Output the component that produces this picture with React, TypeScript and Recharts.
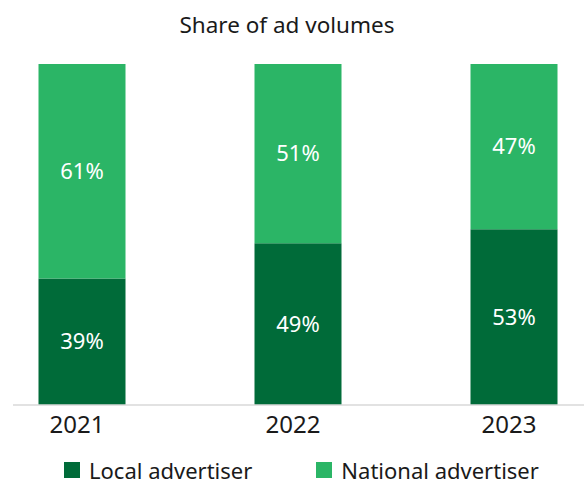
import React from 'react';
import { BarChart, Bar, XAxis, YAxis, LabelList } from 'recharts';

const years = ['2021', '2022', '2023'];
const localShare = [39, 49, 53];
const nationalShare = [61, 51, 47];
const seriesNames = ['Local advertiser', 'National advertiser'];

const DARK = '#006b39';
const LIGHT = '#2bb566';
const FONT = '"Noto Sans", sans-serif';

// chart geometry
const CHART_W = 648;
const CHART_H = 486;
const PLOT_TOP = 64;
const PLOT_BOTTOM = 405;

const data = years.map((y, i) => ({ year: y, local: localShare[i], national: nationalShare[i] }));

// centre the label in the visible (clipped) part of the bar
const CenterLabel = (props: any) => {
  const { x, y, width, height, value } = props;
  const top = Math.max(y, PLOT_TOP);
  const bottom = Math.min(y + height, PLOT_BOTTOM);
  return (
    <text
      x={x + width / 2}
      y={(top + bottom) / 2 - 1.5}
      textAnchor="middle"
      dominantBaseline="central"
      fill="#ffffff"
      fontSize={22}
      fontFamily={FONT}
    >
      {value}%
    </text>
  );
};

export default function App() {
  return (
    <div style={{ position: 'absolute', left: 0, top: 0, width: 584, height: 486, background: '#fff', overflow: 'hidden' }}>
      <div
        style={{
          position: 'absolute', left: 0, width: 574, top: 9, textAlign: 'center',
          fontFamily: FONT, fontSize: 22.5, color: '#1a1a1a', lineHeight: '32px',
        }}
      >
        Share of ad volumes
      </div>
      <div style={{ position: 'absolute', left: 13, top: 0, width: 571, height: CHART_H, overflow: 'hidden' }}>
        <div style={{ position: 'absolute', left: -39.5, top: 0 }}>
          <BarChart
            width={CHART_W}
            height={CHART_H}
            data={data}
            margin={{ top: PLOT_TOP, right: 0, bottom: 0, left: 0 }}
            barCategoryGap={64.5}
          >
            <XAxis
              dataKey="year"
              height={CHART_H - PLOT_BOTTOM}
              tickLine={false}
              axisLine={{ stroke: '#d9d9d9', strokeWidth: 1.5 }}
              tick={{ fill: '#1a1a1a', fontSize: 24, fontFamily: FONT, dx: -5 }}
              tickMargin={5}
            />
            <YAxis hide domain={[3, 100]} allowDataOverflow />
            <Bar dataKey="local" stackId="a" fill={DARK} isAnimationActive={false}>
              <LabelList dataKey="local" content={<CenterLabel />} />
            </Bar>
            <Bar dataKey="national" stackId="a" fill={LIGHT} isAnimationActive={false}>
              <LabelList dataKey="national" content={<CenterLabel />} />
            </Bar>
          </BarChart>
        </div>
      </div>
      <div
        style={{
          position: 'absolute', left: 64, top: 455, display: 'flex', alignItems: 'center',
          fontFamily: FONT, fontSize: 22, color: '#1a1a1a', lineHeight: 'normal',
        }}
      >
        <span style={{ width: 16, height: 16, background: DARK, display: 'inline-block', marginRight: 9 }} />
        <span>{seriesNames[0]}</span>
        <span style={{ width: 16, height: 16, background: LIGHT, display: 'inline-block', marginLeft: 64, marginRight: 9 }} />
        <span>{seriesNames[1]}</span>
      </div>
    </div>
  );
}
